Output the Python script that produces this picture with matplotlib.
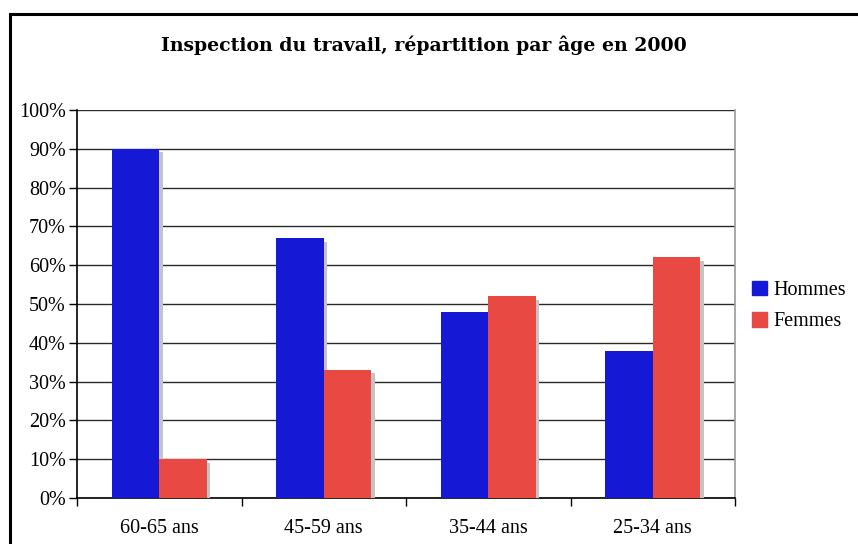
import numpy as np
import matplotlib
matplotlib.use('Agg')
from matplotlib import pyplot as plt
from matplotlib import patheffects as pe
from matplotlib.patches import Rectangle, Patch

# data
categories = ['60-65 ans', '45-59 ans', '35-44 ans', '25-34 ans']
hommes = [90, 67, 48, 38]
femmes = [10, 33, 52, 62]
yticks = [0, 10, 20, 30, 40, 50, 60, 70, 80, 90, 100]

blue = '#1519d6'
red = '#e84a43'
shadow = [pe.SimplePatchShadow(offset=(2.5, -2.5), shadow_rgbFace='#c4c4c4', alpha=1.0), pe.Normal()]

plt.rcParams['font.family'] = ['Liberation Serif', 'DejaVu Serif']

fig = plt.figure(figsize=(8.58, 5.44), dpi=100)
ax = fig.add_axes([77 / 858, 1 - 498 / 544, 658 / 858, 388 / 544])

# outer frame, partly cut off at right and bottom
fig.patches.append(Rectangle((10 / 858, -0.1), 1.2, 1.1 - 14 / 544,
                             transform=fig.transFigure, fill=False,
                             edgecolor='black', linewidth=2.2))

x = np.arange(len(categories))
w = 0.29
ax.bar(x - w / 2, hommes, w, color=blue, path_effects=shadow, zorder=3, label='Hommes')
ax.bar(x + w / 2, femmes, w, color=red, path_effects=shadow, zorder=4, label='Femmes')

ax.set_xlim(-0.5, len(categories) - 0.5)
ax.set_ylim(0, 100)
ax.set_yticks(yticks)
ax.set_yticklabels([f'{v}%' for v in yticks])
ax.yaxis.grid(True, color='#2a2a2a', linewidth=1.0, zorder=0)
ax.set_axisbelow(True)

ax.set_xticks(np.arange(len(categories) + 1) - 0.5)
ax.set_xticklabels([])
ax.set_xticks(x, minor=True)
ax.set_xticklabels(categories, minor=True)
ax.tick_params(axis='x', which='minor', length=0, pad=15, labelsize=14.5)
ax.tick_params(axis='x', which='major', length=6, direction='out', width=1)
ax.tick_params(axis='y', length=6, direction='out', width=1, labelsize=14.5, pad=2)

ax.spines['top'].set_visible(False)
ax.spines['right'].set_color('#999999')
ax.spines['right'].set_linewidth(1.2)
ax.spines['left'].set_linewidth(1.2)
ax.spines['bottom'].set_linewidth(1.2)

fig.text(424 / 858, 1 - 45 / 544, 'Inspection du travail, répartition par âge en 2000',
         ha='center', va='center', fontsize=13.6, fontweight='bold', family='DejaVu Serif')

handles = [Patch(color=blue, label='Hommes'), Patch(color=red, label='Femmes')]
fig.legend(handles=handles, loc='center left', bbox_to_anchor=(752 / 858, 1 - 306 / 544),
           frameon=False, fontsize=14.5, handlelength=0.75, handleheight=0.75,
           handletextpad=0.3, labelspacing=0.6, borderpad=0, borderaxespad=0)

plt.savefig('out.png', dpi=100)
